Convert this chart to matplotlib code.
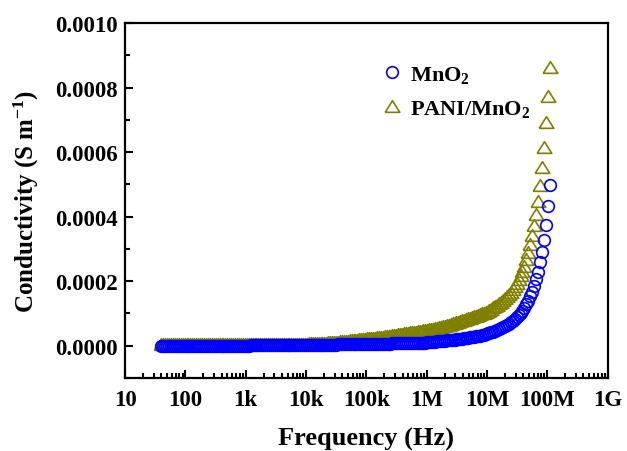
import numpy as np
import matplotlib
matplotlib.use("Agg")
import matplotlib.pyplot as plt
from matplotlib.ticker import FixedLocator, LogLocator, NullFormatter, MultipleLocator, FuncFormatter

plt.rcParams['font.family'] = ['Liberation Serif', 'DejaVu Serif']
plt.rcParams['font.weight'] = 'bold'
plt.rcParams['mathtext.fontset'] = 'custom'
plt.rcParams['mathtext.rm'] = 'Liberation Serif:bold'
plt.rcParams['mathtext.bf'] = 'Liberation Serif:bold'
plt.rcParams['mathtext.it'] = 'Liberation Serif:bold'
plt.rcParams['mathtext.default'] = 'rm'

# ---------------- data ----------------
# measurement frequencies (Hz), 40 Hz - 110 MHz sweep
frequency_hz = [
    40.0, 43.08, 46.39, 49.96, 53.81, 57.95, 62.41, 67.21, 72.38, 77.95,
    83.95, 90.41, 97.37, 104.9, 112.9, 121.6, 131.0, 141.1, 151.9, 163.6,
    176.2, 189.8, 204.4, 220.1, 237.0, 255.3, 274.9, 296.1, 318.8, 343.4,
    369.8, 398.3, 428.9, 461.9, 497.5, 535.7, 577.0, 621.4, 669.2, 720.7,
    776.1, 835.8, 900.2, 969.4, 1044, 1124, 1211, 1304, 1404, 1513,
    1629, 1754, 1889, 2035, 2191, 2360, 2541, 2737, 2948, 3174,
    3419, 3682, 3965, 4270, 4599, 4953, 5334, 5744, 6186, 6662,
    7175, 7727, 8322, 8962, 9652, 10395, 11195, 12056, 12984, 13983,
    15059, 16218, 17466, 18810, 20257, 21816, 23495, 25303, 27250, 29347,
    31606, 34038, 36657, 39478, 42516, 45788, 49311, 53106, 57192, 61593,
    66334, 71438, 76936, 82857, 89232, 96099, 103494, 111459, 120035, 129273,
    139221, 149935, 161473, 173898, 187280, 201692, 217212, 233927, 251929, 271315,
    292195, 314680, 338895, 364976, 393060, 423310, 455880, 490964, 528740, 569436,
    613254, 660449, 711270, 766000, 824951, 888434, 956797, 1030413, 1109721, 1195118,
    1.287e6, 1.386e6, 1.493e6, 1.608e6, 1.731e6, 1.865e6, 2.008e6, 2.163e6, 2.329e6, 2.508e6,
    2.701e6, 2.909e6, 3.133e6, 3.374e6, 3.634e6, 3.913e6, 4.215e6, 4.539e6, 4.888e6, 5.264e6,
    5.670e6, 6.106e6, 6.576e6, 7.082e6, 7.627e6, 8.214e6, 8.846e6, 9.526e6, 1.026e7, 1.105e7,
    1.190e7, 1.281e7, 1.380e7, 1.486e7, 1.601e7, 1.724e7, 1.856e7, 1.999e7, 2.153e7, 2.319e7,
    2.497e7, 2.690e7, 2.897e7, 3.119e7, 3.359e7, 3.618e7, 3.896e7, 4.196e7, 4.519e7, 4.867e7,
    5.241e7, 5.645e7, 6.079e7, 6.547e7, 7.051e7, 7.593e7, 8.178e7, 8.807e7, 9.485e7, 1.021e8,
    1.100e8,
]

# conductivity in micro-S/m
mno2_uS = [
    0, 0, 0, 0, 0, 0, 0, 0, 0, 0, 0, 0, 0, 0, 0, 0, 0, 0, 0, 0,
    0, 0, 0, 0, 0, 0, 0, 0, 0, 0, 0, 0, 0, 0, 0, 0, 0, 0, 0, 0,
    0, 0, 0, 0, 0, 0, 1, 1, 1, 1, 1, 1, 1, 1, 1, 1, 1, 1, 1, 1,
    1, 1, 1, 2, 2, 2, 2, 2, 2, 2, 2, 2, 2, 2, 2, 2, 3, 3, 3, 3,
    3, 3, 3, 3, 3, 3, 3, 3, 3, 3, 3, 4, 4, 4, 4, 4, 4, 4, 4, 4,
    4, 5, 5, 5, 5, 5, 5, 5, 5, 5, 5, 6, 6, 6, 6, 6, 6, 6, 6, 7,
    7, 7, 7, 7, 7, 8, 8, 8, 8, 8, 9, 9, 9, 9, 10, 10, 10, 11, 12, 12,
    13, 13, 14, 14, 15, 15, 16, 17, 17, 18, 19, 19, 20, 21, 22, 22, 23, 24, 25, 26,
    27, 28, 29, 30, 31, 32, 34, 36, 38, 40, 42, 44, 46, 48, 51, 54, 57, 60, 64, 68,
    72, 77, 82, 88, 94, 101, 109, 118, 128, 140, 153, 168, 186, 207, 230, 258, 290, 328, 375, 433,
    499,
]

pani_mno2_uS = [
    4, 4, 4, 4, 4, 4, 4, 4, 4, 4, 4, 4, 4, 4, 4, 4, 4, 4, 4, 4,
    4, 4, 4, 4, 4, 4, 4, 4, 4, 4, 4, 5, 5, 5, 5, 5, 5, 5, 5, 5,
    5, 5, 5, 5, 5, 5, 5, 5, 5, 5, 5, 5, 5, 5, 5, 5, 5, 5, 5, 5,
    5, 5, 5, 5, 5, 5, 5, 5, 5, 5, 5, 5, 6, 6, 6, 6, 7, 7, 7, 8,
    8, 8, 9, 9, 10, 10, 11, 11, 12, 12, 13, 13, 14, 14, 15, 16, 16, 17, 17, 18,
    19, 19, 20, 21, 21, 22, 23, 23, 24, 25, 25, 26, 27, 28, 28, 29, 30, 31, 31, 32,
    33, 34, 35, 36, 37, 38, 39, 40, 41, 42, 43, 44, 45, 46, 47, 48, 49, 50, 51, 52,
    53, 54, 56, 57, 59, 60, 62, 64, 65, 67, 69, 71, 73, 75, 77, 79, 81, 83, 85, 87,
    89, 91, 93, 95, 97, 100, 102, 105, 108, 111, 115, 119, 123, 127, 132, 137, 142, 148, 154, 161,
    168, 176, 185, 195, 206, 218, 232, 248, 268, 291, 316, 342, 373, 409, 450, 497, 555, 617, 692, 775,
    865,
]

series_labels = [r'MnO$_2$', r'PANI/MnO$_2$']
x_tick_values = [1e1, 1e2, 1e3, 1e4, 1e5, 1e6, 1e7, 1e8, 1e9]
x_tick_labels = ['10', '100', '1k', '10k', '100k', '1M', '10M', '100M', '1G']

assert len(frequency_hz) == len(mno2_uS) == len(pani_mno2_uS)

f = np.array(frequency_hz)
s_mno2 = np.array(mno2_uS) * 1e-6
s_pani = np.array(pani_mno2_uS) * 1e-6

# ---------------- figure ----------------
fig = plt.figure(figsize=(6.27, 4.52), dpi=100)
ax = fig.add_axes([125 / 627, 1 - 379 / 452, 482.5 / 627, 355 / 452])

tri = [(-1, -0.8), (1, -0.8), (0, 0.8), (-1, -0.8)]
h_pani, = ax.plot(f, s_pani, linestyle='none', marker=tri, markersize=10.5,
                  markerfacecolor='none', markeredgecolor='#808000',
                  markeredgewidth=1.2, zorder=2, label=series_labels[1])
h_mno2, = ax.plot(f, s_mno2, linestyle='none', marker='o', markersize=8.4,
                  markerfacecolor='none', markeredgecolor='#0000ff',
                  markeredgewidth=1.2, zorder=3, label=series_labels[0])

ax.set_xscale('log')
ax.set_xlim(1e1, 1e9)
ax.set_ylim(-0.0001, 0.0010)

ax.xaxis.set_major_locator(FixedLocator(x_tick_values))
ax.set_xticklabels(x_tick_labels)
ax.xaxis.set_minor_locator(LogLocator(base=10, subs=np.arange(2, 10), numticks=20))
ax.xaxis.set_minor_formatter(NullFormatter())

ax.yaxis.set_major_locator(MultipleLocator(0.0002))
ax.yaxis.set_minor_locator(MultipleLocator(0.0001))
ax.yaxis.set_major_formatter(FuncFormatter(lambda v, p: f"{v:.4f}"))

for sp in ax.spines.values():
    sp.set_linewidth(1.6)

ax.tick_params(which='both', direction='in', top=False, right=False, width=1.5)
ax.tick_params(which='major', length=6, labelsize=16.5)
ax.tick_params(axis='y', which='major', pad=5)
ax.tick_params(axis='x', which='major', pad=8)
ax.tick_params(which='minor', length=3.5)
for lab in ax.get_xticklabels() + ax.get_yticklabels():
    lab.set_fontweight('bold')

ax.set_xlabel('Frequency (Hz)', fontsize=19, fontweight='bold', labelpad=12)
ax.set_ylabel(r'Conductivity (S m$^{-1}$)', fontsize=18, fontweight='bold', labelpad=10)

leg = ax.legend(handles=[h_mno2, h_pani], labels=series_labels,
                loc='upper left', bbox_to_anchor=(0.5306, 0.885),
                frameon=False, fontsize=16, handlelength=1.0, handletextpad=0.3,
                borderpad=0, borderaxespad=0, labelspacing=0.6, numpoints=1)

fig.savefig('out.png', dpi=100)
